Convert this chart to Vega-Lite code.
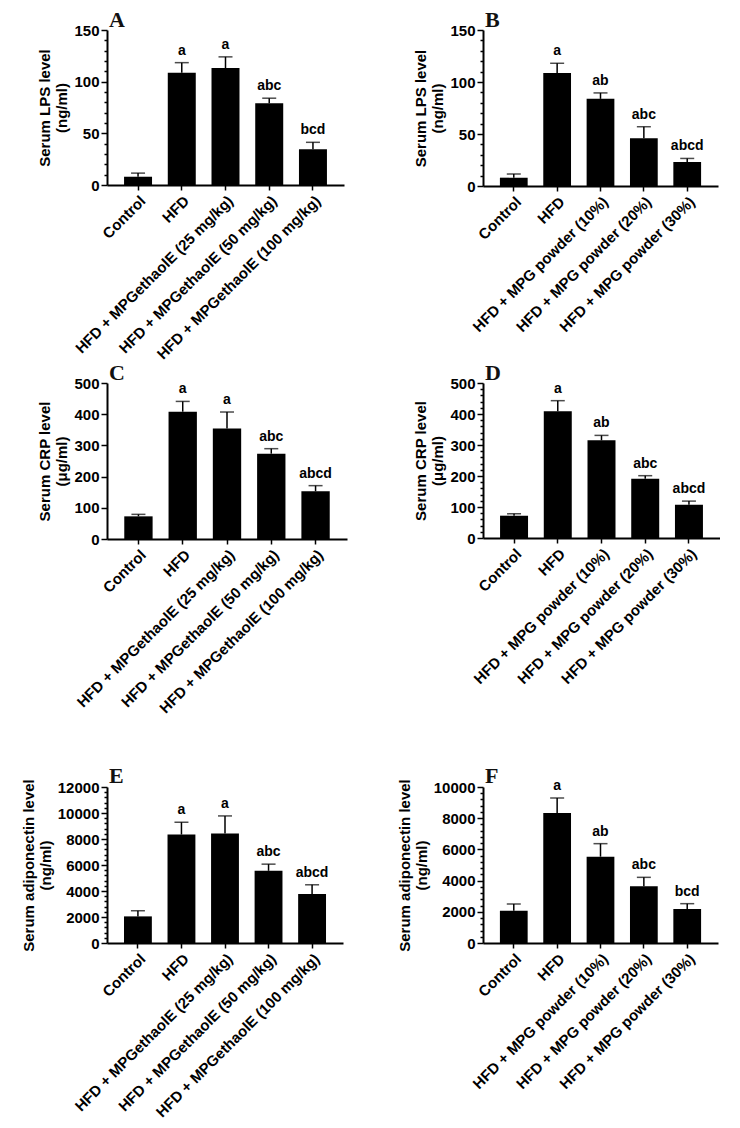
{
  "$schema": "https://vega.github.io/schema/vega-lite/v6.json",
  "padding": {"left": 21, "top": 9, "right": 0, "bottom": 0},
  "background": "white",
  "config": {
    "view": {"stroke": null},
    "axis": {
      "ticks": true, "tickOpacity": 1, "tickColor": "black", "tickWidth": 1.5,
      "domainColor": "black", "domainWidth": 2,
      "labelColor": "black", "titleColor": "black", "labelFont": "Liberation Sans", "titleFont": "Liberation Sans",
      "labelFontSize": 15, "titleFontSize": 15, "labelFontWeight": "bold", "titleFontWeight": "bold",
      "grid": false, "labelPadding": 2, "titlePadding": 4, "labelLimit": 0, "labelOverlap": false
    },
    "axisX": {"title": null, "labelAngle": -45, "labelPadding": 3, "tickSize": 5},
    "title": {"font": "Liberation Serif", "fontSize": 22, "fontWeight": "bold", "color": "#111111", "anchor": "start", "frame": "group", "offset": -9, "dx": 2}
  },
  "columns": 2,
  "spacing": {"row": 0, "column": 50},
  "concat": [
    {
      "width": 237, "height": 155,
      "title": {"text": "A"},
      "data": {"values": [
        {"g": "Control", "v": 8, "e": 11.5, "l": ""},
        {"g": "HFD", "v": 108.7, "e": 118.4, "l": "a"},
        {"g": "HFD + MPGethaolE (25 mg/kg)", "v": 113.2, "e": 124, "l": "a"},
        {"g": "HFD + MPGethaolE (50 mg/kg)", "v": 79, "e": 84, "l": "abc"},
        {"g": "HFD + MPGethaolE (100 mg/kg)", "v": 34.5, "e": 41.3, "l": "bcd"}
      ]},
      "encoding": {"x": {"field": "g", "type": "nominal", "sort": null, "scale": {"paddingInner": 0.36, "paddingOuter": 0.39},
        "axis": {"ticks": true, "tickOpacity": 1, "tickSize": 5, "tickWidth": 1.5, "tickColor": "black"}}},
      "layer": [
        {"mark": {"type": "bar", "color": "black"},
         "encoding": {"y": {"field": "v", "type": "quantitative", "title": ["Serum LPS level", "(ng/ml)"], "scale": {"domain": [0, 150], "nice": false},
           "axis": {"ticks": true, "tickOpacity": 1, "tickWidth": 1.5, "tickColor": "black", "values": [0,10,20,30,40,50,60,70,80,90,100,110,120,130,140,150], "labelExpr": "datum.value % 50 === 0 ? datum.label : ''", "tickSize": {"condition": {"test": "datum.value % 50 === 0", "value": 6}, "value": 3}}}}},
        {"mark": {"type": "rule", "color": "black", "strokeWidth": 1.5},
         "encoding": {"y": {"field": "v", "type": "quantitative", "title": ["Serum LPS level", "(ng/ml)"],
           "axis": {"ticks": true, "tickOpacity": 1, "tickWidth": 1.5, "tickColor": "black", "values": [0,10,20,30,40,50,60,70,80,90,100,110,120,130,140,150], "labelExpr": "datum.value % 50 === 0 ? datum.label : ''", "tickSize": {"condition": {"test": "datum.value % 50 === 0", "value": 6}, "value": 3}}}, "y2": {"field": "e"}}},
        {"mark": {"type": "tick", "color": "black", "thickness": 1.5, "size": 14},
         "encoding": {"y": {"field": "e", "type": "quantitative", "title": ["Serum LPS level", "(ng/ml)"],
           "axis": {"ticks": true, "tickOpacity": 1, "tickWidth": 1.5, "tickColor": "black", "values": [0,10,20,30,40,50,60,70,80,90,100,110,120,130,140,150], "labelExpr": "datum.value % 50 === 0 ? datum.label : ''", "tickSize": {"condition": {"test": "datum.value % 50 === 0", "value": 6}, "value": 3}}}}},
        {"mark": {"type": "text", "dy": -8, "baseline": "alphabetic", "font": "Liberation Sans", "fontSize": 14, "fontWeight": "bold", "color": "black"},
         "encoding": {"y": {"field": "e", "type": "quantitative", "title": ["Serum LPS level", "(ng/ml)"],
           "axis": {"ticks": true, "tickOpacity": 1, "tickWidth": 1.5, "tickColor": "black", "values": [0,10,20,30,40,50,60,70,80,90,100,110,120,130,140,150], "labelExpr": "datum.value % 50 === 0 ? datum.label : ''", "tickSize": {"condition": {"test": "datum.value % 50 === 0", "value": 6}, "value": 3}}}, "text": {"field": "l"}}}
      ]
    },
    {
      "width": 235, "height": 156,
      "title": {"text": "B"},
      "data": {"values": [
        {"g": "Control", "v": 8, "e": 11.5, "l": ""},
        {"g": "HFD", "v": 108.7, "e": 118, "l": "a"},
        {"g": "HFD + MPG powder (10%)", "v": 83.8, "e": 89.5, "l": "ab"},
        {"g": "HFD + MPG powder (20%)", "v": 46, "e": 57, "l": "abc"},
        {"g": "HFD + MPG powder (30%)", "v": 23, "e": 26.5, "l": "abcd"}
      ]},
      "encoding": {"x": {"field": "g", "type": "nominal", "sort": null, "scale": {"paddingInner": 0.36, "paddingOuter": 0.39},
        "axis": {"ticks": true, "tickOpacity": 1, "tickSize": 5, "tickWidth": 1.5, "tickColor": "black"}}},
      "layer": [
        {"mark": {"type": "bar", "color": "black"},
         "encoding": {"y": {"field": "v", "type": "quantitative", "title": ["Serum LPS level", "(ng/ml)"], "scale": {"domain": [0, 150], "nice": false},
           "axis": {"ticks": true, "tickOpacity": 1, "tickWidth": 1.5, "tickColor": "black", "values": [0,10,20,30,40,50,60,70,80,90,100,110,120,130,140,150], "labelExpr": "datum.value % 50 === 0 ? datum.label : ''", "tickSize": {"condition": {"test": "datum.value % 50 === 0", "value": 6}, "value": 3}}}}},
        {"mark": {"type": "rule", "color": "black", "strokeWidth": 1.5},
         "encoding": {"y": {"field": "v", "type": "quantitative", "title": ["Serum LPS level", "(ng/ml)"],
           "axis": {"ticks": true, "tickOpacity": 1, "tickWidth": 1.5, "tickColor": "black", "values": [0,10,20,30,40,50,60,70,80,90,100,110,120,130,140,150], "labelExpr": "datum.value % 50 === 0 ? datum.label : ''", "tickSize": {"condition": {"test": "datum.value % 50 === 0", "value": 6}, "value": 3}}}, "y2": {"field": "e"}}},
        {"mark": {"type": "tick", "color": "black", "thickness": 1.5, "size": 14},
         "encoding": {"y": {"field": "e", "type": "quantitative", "title": ["Serum LPS level", "(ng/ml)"],
           "axis": {"ticks": true, "tickOpacity": 1, "tickWidth": 1.5, "tickColor": "black", "values": [0,10,20,30,40,50,60,70,80,90,100,110,120,130,140,150], "labelExpr": "datum.value % 50 === 0 ? datum.label : ''", "tickSize": {"condition": {"test": "datum.value % 50 === 0", "value": 6}, "value": 3}}}}},
        {"mark": {"type": "text", "dy": -8, "baseline": "alphabetic", "font": "Liberation Sans", "fontSize": 14, "fontWeight": "bold", "color": "black"},
         "encoding": {"y": {"field": "e", "type": "quantitative", "title": ["Serum LPS level", "(ng/ml)"],
           "axis": {"ticks": true, "tickOpacity": 1, "tickWidth": 1.5, "tickColor": "black", "values": [0,10,20,30,40,50,60,70,80,90,100,110,120,130,140,150], "labelExpr": "datum.value % 50 === 0 ? datum.label : ''", "tickSize": {"condition": {"test": "datum.value % 50 === 0", "value": 6}, "value": 3}}}, "text": {"field": "l"}}}
      ]
    },
    {
      "width": 240, "height": 156,
      "title": {"text": "C"},
      "data": {"values": [
        {"g": "Control", "v": 72.6, "e": 79, "l": ""},
        {"g": "HFD", "v": 408, "e": 441, "l": "a"},
        {"g": "HFD + MPGethaolE (25 mg/kg)", "v": 354, "e": 407, "l": "a"},
        {"g": "HFD + MPGethaolE (50 mg/kg)", "v": 273.5, "e": 289.5, "l": "abc"},
        {"g": "HFD + MPGethaolE (100 mg/kg)", "v": 153, "e": 171, "l": "abcd"}
      ]},
      "encoding": {"x": {"field": "g", "type": "nominal", "sort": null, "scale": {"paddingInner": 0.36, "paddingOuter": 0.39},
        "axis": {"ticks": true, "tickOpacity": 1, "tickSize": 5, "tickWidth": 1.5, "tickColor": "black"}}},
      "layer": [
        {"mark": {"type": "bar", "color": "black"},
         "encoding": {"y": {"field": "v", "type": "quantitative", "title": ["Serum CRP level", "(μg/ml)"], "scale": {"domain": [0, 500], "nice": false},
           "axis": {"ticks": true, "tickOpacity": 1, "tickSize": 6, "tickWidth": 1.5, "tickColor": "black", "values": [0,100,200,300,400,500]}}}},
        {"mark": {"type": "rule", "color": "black", "strokeWidth": 1.5},
         "encoding": {"y": {"field": "v", "type": "quantitative", "title": ["Serum CRP level", "(μg/ml)"], "axis": {"ticks": true, "tickOpacity": 1, "tickSize": 6, "tickWidth": 1.5, "tickColor": "black", "values": [0,100,200,300,400,500]}}, "y2": {"field": "e"}}},
        {"mark": {"type": "tick", "color": "black", "thickness": 1.5, "size": 14},
         "encoding": {"y": {"field": "e", "type": "quantitative", "title": ["Serum CRP level", "(μg/ml)"], "axis": {"ticks": true, "tickOpacity": 1, "tickSize": 6, "tickWidth": 1.5, "tickColor": "black", "values": [0,100,200,300,400,500]}}}},
        {"mark": {"type": "text", "dy": -8, "baseline": "alphabetic", "font": "Liberation Sans", "fontSize": 14, "fontWeight": "bold", "color": "black"},
         "encoding": {"y": {"field": "e", "type": "quantitative", "title": ["Serum CRP level", "(μg/ml)"], "axis": {"ticks": true, "tickOpacity": 1, "tickSize": 6, "tickWidth": 1.5, "tickColor": "black", "values": [0,100,200,300,400,500]}}, "text": {"field": "l"}}}
      ]
    },
    {
      "width": 237, "height": 155,
      "title": {"text": "D"},
      "data": {"values": [
        {"g": "Control", "v": 72, "e": 78, "l": ""},
        {"g": "HFD", "v": 409, "e": 443, "l": "a"},
        {"g": "HFD + MPG powder (10%)", "v": 315, "e": 331, "l": "ab"},
        {"g": "HFD + MPG powder (20%)", "v": 191, "e": 201, "l": "abc"},
        {"g": "HFD + MPG powder (30%)", "v": 107.5, "e": 119, "l": "abcd"}
      ]},
      "encoding": {"x": {"field": "g", "type": "nominal", "sort": null, "scale": {"paddingInner": 0.36, "paddingOuter": 0.39},
        "axis": {"ticks": true, "tickOpacity": 1, "tickSize": 5, "tickWidth": 1.5, "tickColor": "black"}}},
      "layer": [
        {"mark": {"type": "bar", "color": "black"},
         "encoding": {"y": {"field": "v", "type": "quantitative", "title": ["Serum CRP level", "(μg/ml)"], "scale": {"domain": [0, 500], "nice": false},
           "axis": {"ticks": true, "tickOpacity": 1, "tickWidth": 1.5, "tickColor": "black", "values": [0,20,40,60,80,100,120,140,160,180,200,220,240,260,280,300,320,340,360,380,400,420,440,460,480,500], "labelExpr": "datum.value % 100 === 0 ? datum.label : ''", "tickSize": {"condition": {"test": "datum.value % 100 === 0", "value": 6}, "value": 3}}}}},
        {"mark": {"type": "rule", "color": "black", "strokeWidth": 1.5},
         "encoding": {"y": {"field": "v", "type": "quantitative", "title": ["Serum CRP level", "(μg/ml)"],
           "axis": {"ticks": true, "tickOpacity": 1, "tickWidth": 1.5, "tickColor": "black", "values": [0,20,40,60,80,100,120,140,160,180,200,220,240,260,280,300,320,340,360,380,400,420,440,460,480,500], "labelExpr": "datum.value % 100 === 0 ? datum.label : ''", "tickSize": {"condition": {"test": "datum.value % 100 === 0", "value": 6}, "value": 3}}}, "y2": {"field": "e"}}},
        {"mark": {"type": "tick", "color": "black", "thickness": 1.5, "size": 14},
         "encoding": {"y": {"field": "e", "type": "quantitative", "title": ["Serum CRP level", "(μg/ml)"],
           "axis": {"ticks": true, "tickOpacity": 1, "tickWidth": 1.5, "tickColor": "black", "values": [0,20,40,60,80,100,120,140,160,180,200,220,240,260,280,300,320,340,360,380,400,420,440,460,480,500], "labelExpr": "datum.value % 100 === 0 ? datum.label : ''", "tickSize": {"condition": {"test": "datum.value % 100 === 0", "value": 6}, "value": 3}}}}},
        {"mark": {"type": "text", "dy": -8, "baseline": "alphabetic", "font": "Liberation Sans", "fontSize": 14, "fontWeight": "bold", "color": "black"},
         "encoding": {"y": {"field": "e", "type": "quantitative", "title": ["Serum CRP level", "(μg/ml)"],
           "axis": {"ticks": true, "tickOpacity": 1, "tickWidth": 1.5, "tickColor": "black", "values": [0,20,40,60,80,100,120,140,160,180,200,220,240,260,280,300,320,340,360,380,400,420,440,460,480,500], "labelExpr": "datum.value % 100 === 0 ? datum.label : ''", "tickSize": {"condition": {"test": "datum.value % 100 === 0", "value": 6}, "value": 3}}}, "text": {"field": "l"}}}
      ]
    },
    {
      "width": 236, "height": 156,
      "title": {"text": ["", "E"], "lineHeight": 48},
      "data": {"values": [
        {"g": "Control", "v": 2047, "e": 2482, "l": ""},
        {"g": "HFD", "v": 8342, "e": 9289, "l": "a"},
        {"g": "HFD + MPGethaolE (25 mg/kg)", "v": 8419, "e": 9775, "l": "a"},
        {"g": "HFD + MPGethaolE (50 mg/kg)", "v": 5553, "e": 6065, "l": "abc"},
        {"g": "HFD + MPGethaolE (100 mg/kg)", "v": 3762, "e": 4478, "l": "abcd"}
      ]},
      "encoding": {"x": {"field": "g", "type": "nominal", "sort": null, "scale": {"paddingInner": 0.36, "paddingOuter": 0.39},
        "axis": {"ticks": true, "tickOpacity": 1, "tickSize": 5, "tickWidth": 1.5, "tickColor": "black"}}},
      "layer": [
        {"mark": {"type": "bar", "color": "black"},
         "encoding": {"y": {"field": "v", "type": "quantitative", "title": ["Serum adiponectin level", "(ng/ml)"], "scale": {"domain": [0, 12000], "nice": false},
           "axis": {"ticks": true, "tickOpacity": 1, "tickWidth": 1.5, "tickColor": "black", "format": "d", "values": [0,400,800,1200,1600,2000,2400,2800,3200,3600,4000,4400,4800,5200,5600,6000,6400,6800,7200,7600,8000,8400,8800,9200,9600,10000,10400,10800,11200,11600,12000], "labelExpr": "datum.value % 2000 === 0 ? datum.label : ''", "tickSize": {"condition": {"test": "datum.value % 2000 === 0", "value": 6}, "value": 3}}}}},
        {"mark": {"type": "rule", "color": "black", "strokeWidth": 1.5},
         "encoding": {"y": {"field": "v", "type": "quantitative", "title": ["Serum adiponectin level", "(ng/ml)"],
           "axis": {"ticks": true, "tickOpacity": 1, "tickWidth": 1.5, "tickColor": "black", "format": "d", "values": [0,400,800,1200,1600,2000,2400,2800,3200,3600,4000,4400,4800,5200,5600,6000,6400,6800,7200,7600,8000,8400,8800,9200,9600,10000,10400,10800,11200,11600,12000], "labelExpr": "datum.value % 2000 === 0 ? datum.label : ''", "tickSize": {"condition": {"test": "datum.value % 2000 === 0", "value": 6}, "value": 3}}}, "y2": {"field": "e"}}},
        {"mark": {"type": "tick", "color": "black", "thickness": 1.5, "size": 14},
         "encoding": {"y": {"field": "e", "type": "quantitative", "title": ["Serum adiponectin level", "(ng/ml)"],
           "axis": {"ticks": true, "tickOpacity": 1, "tickWidth": 1.5, "tickColor": "black", "format": "d", "values": [0,400,800,1200,1600,2000,2400,2800,3200,3600,4000,4400,4800,5200,5600,6000,6400,6800,7200,7600,8000,8400,8800,9200,9600,10000,10400,10800,11200,11600,12000], "labelExpr": "datum.value % 2000 === 0 ? datum.label : ''", "tickSize": {"condition": {"test": "datum.value % 2000 === 0", "value": 6}, "value": 3}}}}},
        {"mark": {"type": "text", "dy": -8, "baseline": "alphabetic", "font": "Liberation Sans", "fontSize": 14, "fontWeight": "bold", "color": "black"},
         "encoding": {"y": {"field": "e", "type": "quantitative", "title": ["Serum adiponectin level", "(ng/ml)"],
           "axis": {"ticks": true, "tickOpacity": 1, "tickWidth": 1.5, "tickColor": "black", "format": "d", "values": [0,400,800,1200,1600,2000,2400,2800,3200,3600,4000,4400,4800,5200,5600,6000,6400,6800,7200,7600,8000,8400,8800,9200,9600,10000,10400,10800,11200,11600,12000], "labelExpr": "datum.value % 2000 === 0 ? datum.label : ''", "tickSize": {"condition": {"test": "datum.value % 2000 === 0", "value": 6}, "value": 3}}}, "text": {"field": "l"}}}
      ]
    },
    {
      "width": 235, "height": 156,
      "title": {"text": ["", "F"], "lineHeight": 48},
      "data": {"values": [
        {"g": "Control", "v": 2073, "e": 2500, "l": ""},
        {"g": "HFD", "v": 8333, "e": 9295, "l": "a"},
        {"g": "HFD + MPG powder (10%)", "v": 5534, "e": 6368, "l": "ab"},
        {"g": "HFD + MPG powder (20%)", "v": 3632, "e": 4209, "l": "abc"},
        {"g": "HFD + MPG powder (30%)", "v": 2179, "e": 2521, "l": "bcd"}
      ]},
      "encoding": {"x": {"field": "g", "type": "nominal", "sort": null, "scale": {"paddingInner": 0.36, "paddingOuter": 0.39},
        "axis": {"ticks": true, "tickOpacity": 1, "tickSize": 5, "tickWidth": 1.5, "tickColor": "black"}}},
      "layer": [
        {"mark": {"type": "bar", "color": "black"},
         "encoding": {"y": {"field": "v", "type": "quantitative", "title": ["Serum adiponectin level", "(ng/ml)"], "scale": {"domain": [0, 10000], "nice": false},
           "axis": {"ticks": true, "tickOpacity": 1, "tickWidth": 1.5, "tickColor": "black", "format": "d", "values": [0,400,800,1200,1600,2000,2400,2800,3200,3600,4000,4400,4800,5200,5600,6000,6400,6800,7200,7600,8000,8400,8800,9200,9600,10000], "labelExpr": "datum.value % 2000 === 0 ? datum.label : ''", "tickSize": {"condition": {"test": "datum.value % 2000 === 0", "value": 6}, "value": 3}}}}},
        {"mark": {"type": "rule", "color": "black", "strokeWidth": 1.5},
         "encoding": {"y": {"field": "v", "type": "quantitative", "title": ["Serum adiponectin level", "(ng/ml)"],
           "axis": {"ticks": true, "tickOpacity": 1, "tickWidth": 1.5, "tickColor": "black", "format": "d", "values": [0,400,800,1200,1600,2000,2400,2800,3200,3600,4000,4400,4800,5200,5600,6000,6400,6800,7200,7600,8000,8400,8800,9200,9600,10000], "labelExpr": "datum.value % 2000 === 0 ? datum.label : ''", "tickSize": {"condition": {"test": "datum.value % 2000 === 0", "value": 6}, "value": 3}}}, "y2": {"field": "e"}}},
        {"mark": {"type": "tick", "color": "black", "thickness": 1.5, "size": 14},
         "encoding": {"y": {"field": "e", "type": "quantitative", "title": ["Serum adiponectin level", "(ng/ml)"],
           "axis": {"ticks": true, "tickOpacity": 1, "tickWidth": 1.5, "tickColor": "black", "format": "d", "values": [0,400,800,1200,1600,2000,2400,2800,3200,3600,4000,4400,4800,5200,5600,6000,6400,6800,7200,7600,8000,8400,8800,9200,9600,10000], "labelExpr": "datum.value % 2000 === 0 ? datum.label : ''", "tickSize": {"condition": {"test": "datum.value % 2000 === 0", "value": 6}, "value": 3}}}}},
        {"mark": {"type": "text", "dy": -8, "baseline": "alphabetic", "font": "Liberation Sans", "fontSize": 14, "fontWeight": "bold", "color": "black"},
         "encoding": {"y": {"field": "e", "type": "quantitative", "title": ["Serum adiponectin level", "(ng/ml)"],
           "axis": {"ticks": true, "tickOpacity": 1, "tickWidth": 1.5, "tickColor": "black", "format": "d", "values": [0,400,800,1200,1600,2000,2400,2800,3200,3600,4000,4400,4800,5200,5600,6000,6400,6800,7200,7600,8000,8400,8800,9200,9600,10000], "labelExpr": "datum.value % 2000 === 0 ? datum.label : ''", "tickSize": {"condition": {"test": "datum.value % 2000 === 0", "value": 6}, "value": 3}}}, "text": {"field": "l"}}}
      ]
    }
  ]
}
